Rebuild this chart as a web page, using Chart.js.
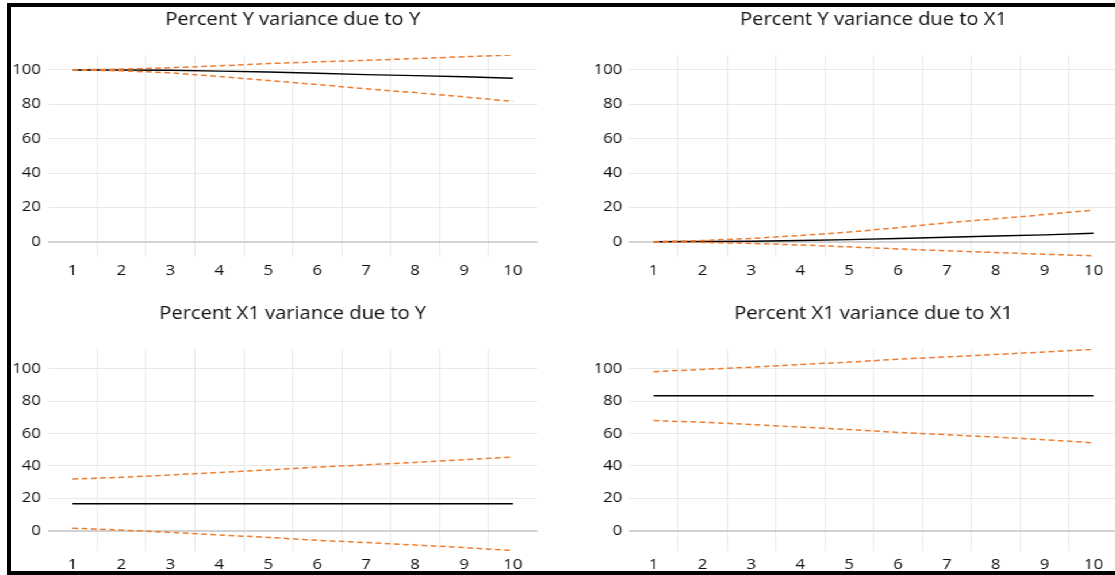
<!DOCTYPE html>
<html>
<head>
<meta charset="utf-8">
<script src="https://cdn.jsdelivr.net/npm/chart.js@4.4.1/dist/chart.umd.min.js"></script>
<style>
  html, body { margin: 0; padding: 0; background: #fff; overflow: hidden; }
  body { width: 1115px; height: 575px; position: relative; }
  #stage { position: absolute; left: 0; top: 0; height: 575px; transform-origin: 0 0; }
  #stage div { position: absolute; }
  #frame { position: absolute; left: 7px; top: 3px; width: 1200px; height: 572px;
           border: 4px solid #000; box-sizing: border-box; pointer-events: none; }
</style>
</head>
<body>
<div id="stage"></div>
<div id="frame"></div>
<script>
// forecast horizon
var steps = ['1', '2', '3', '4', '5', '6', '7', '8', '9', '10'];
var yTicks = [0, 20, 40, 60, 80, 100];

// Percent Y variance due to Y
var yByY   = [100, 100.0, 99.8, 99.3, 98.8, 98.1, 97.3, 96.7, 96.0, 95.2];
var yByYUp = [100, 100.5, 101.3, 102.4, 103.7, 104.7, 105.6, 106.6, 107.7, 108.7];
var yByYLo = [100, 99.5, 98.3, 96.2, 93.9, 91.5, 89.0, 86.8, 84.3, 81.7];

// Percent Y variance due to X1
var yByX1   = [0, 0.1, 0.3, 0.7, 1.2, 1.9, 2.6, 3.3, 4.0, 4.9];
var yByX1Up = [0, 0.7, 1.9, 3.6, 5.6, 8.2, 11.0, 13.3, 15.8, 18.4];
var yByX1Lo = [0, -0.4, -1.0, -1.9, -3.0, -4.2, -5.3, -6.3, -7.3, -8.2];

// Percent X1 variance due to Y
var x1ByY   = [16.7, 16.7, 16.7, 16.7, 16.7, 16.7, 16.7, 16.7, 16.7, 16.7];
var x1ByYUp = [31.9, 33.0, 34.4, 36.0, 37.5, 39.3, 40.7, 42.2, 43.8, 45.5];
var x1ByYLo = [1.6, 0.4, -1.0, -2.6, -4.1, -5.9, -7.3, -8.8, -10.4, -12.2];

// Percent X1 variance due to X1
var x1ByX1   = [83.3, 83.3, 83.3, 83.3, 83.3, 83.3, 83.3, 83.3, 83.3, 83.3];
var x1ByX1Up = [98.2, 99.6, 101.0, 102.6, 104.1, 105.9, 107.3, 108.8, 110.4, 112.0];
var x1ByX1Lo = [68.0, 67.0, 65.6, 64.0, 62.5, 60.7, 59.3, 57.8, 56.2, 54.3];

// the picture is a horizontally stretched export, so draw narrower and stretch
var SX = 1.15;
var FONT = "'Open Sans', 'DejaVu Sans', sans-serif";
var orange = '#ED7D31';
var gridColor = '#e9e9e9';

var panels = [
  { title: 'Percent Y variance due to Y', mid: yByY, up: yByYUp, lo: yByYLo, yMin: -8.9, yMax: 108.7,
    x: 0, y: 0, w: 555, h: 285, plotLeft: 48, plotRight: 537.5, plotTop: 55, plotBottom: 257, titleY: 20 },
  { title: 'Percent Y variance due to X1', mid: yByX1, up: yByX1Up, lo: yByX1Lo, yMin: -8.9, yMax: 108.7,
    x: 555, y: 0, w: 563, h: 285, plotLeft: 628.7, plotRight: 1117.5, plotTop: 55, plotBottom: 257, titleY: 20 },
  { title: 'Percent X1 variance due to Y', mid: x1ByY, up: x1ByYUp, lo: x1ByYLo, yMin: -12.5, yMax: 112.2,
    x: 0, y: 285, w: 555, h: 290, plotLeft: 48, plotRight: 537.5, plotTop: 349, plotBottom: 551, titleY: 314 },
  { title: 'Percent X1 variance due to X1', mid: x1ByX1, up: x1ByX1Up, lo: x1ByX1Lo, yMin: -12.5, yMax: 112.2,
    x: 555, y: 285, w: 563, h: 290, plotLeft: 628.7, plotRight: 1117.5, plotTop: 349, plotBottom: 551, titleY: 314 }
];

var stage = document.getElementById('stage');
stage.style.width = (1120 / SX) + 'px';
stage.style.transform = 'scaleX(' + SX + ')';

function makeChart(p) {
  var box = document.createElement('div');
  box.style.left = (p.x / SX) + 'px';
  box.style.top = p.y + 'px';
  var cv = document.createElement('canvas');
  var cw = Math.round(p.w / SX);
  cv.width = cw;
  cv.height = p.h;
  box.appendChild(cv);
  stage.appendChild(box);

  var titleSize = 17.5;
  var titleTop = p.titleY - p.y - titleSize * 0.6;
  var titleBottom = (p.plotTop - p.y) - titleTop - titleSize * 1.2;
  var padRight = Math.max(0, cw - (p.plotRight - p.x) / SX);

  new Chart(cv, {
    type: 'line',
    data: {
      labels: steps,
      datasets: [
        { data: p.up, borderColor: orange, borderWidth: 1.5, borderDash: [5, 3], pointRadius: 0, tension: 0 },
        { data: p.lo, borderColor: orange, borderWidth: 1.5, borderDash: [5, 3], pointRadius: 0, tension: 0 },
        { data: p.mid, borderColor: '#000', borderWidth: 1.4, pointRadius: 0, tension: 0 }
      ]
    },
    options: {
      responsive: false,
      animation: false,
      devicePixelRatio: 1,
      layout: { padding: { left: 0, right: padRight, top: 0, bottom: 0 } },
      plugins: {
        legend: { display: false },
        tooltip: { enabled: false },
        title: {
          display: true, text: p.title, fullSize: false, color: '#111',
          font: { family: FONT, size: titleSize, weight: 'normal' },
          padding: { top: titleTop, bottom: titleBottom }
        }
      },
      scales: {
        x: {
          offset: true,
          border: { display: false },
          grid: {
            offset: true, drawTicks: false, lineWidth: 1,
            color: function(c) { return (c.type !== 'tick' || c.index === 0) ? 'rgba(0,0,0,0)' : gridColor; }
          },
          ticks: { color: '#111', font: { family: FONT, size: 14.5 }, padding: 5, autoSkip: false, maxRotation: 0 },
          afterFit: function(s) { s.height = p.y + p.h - p.plotBottom; }
        },
        y: {
          min: p.yMin, max: p.yMax,
          border: { display: false },
          grid: {
            drawTicks: false,
            color: function(c) { return c.tick && c.tick.value === 0 ? '#d2d2d2' : gridColor; },
            lineWidth: function(c) { return c.tick && c.tick.value === 0 ? 2 : 1; }
          },
          ticks: { color: '#111', font: { family: FONT, size: 14.5 }, padding: 7 / SX },
          afterBuildTicks: function(a) { a.ticks = yTicks.map(function(v) { return { value: v }; }); },
          afterFit: function(s) { s.width = (p.plotLeft - p.x) / SX; }
        }
      }
    }
  });
}

panels.forEach(makeChart);
</script>
</body>
</html>
